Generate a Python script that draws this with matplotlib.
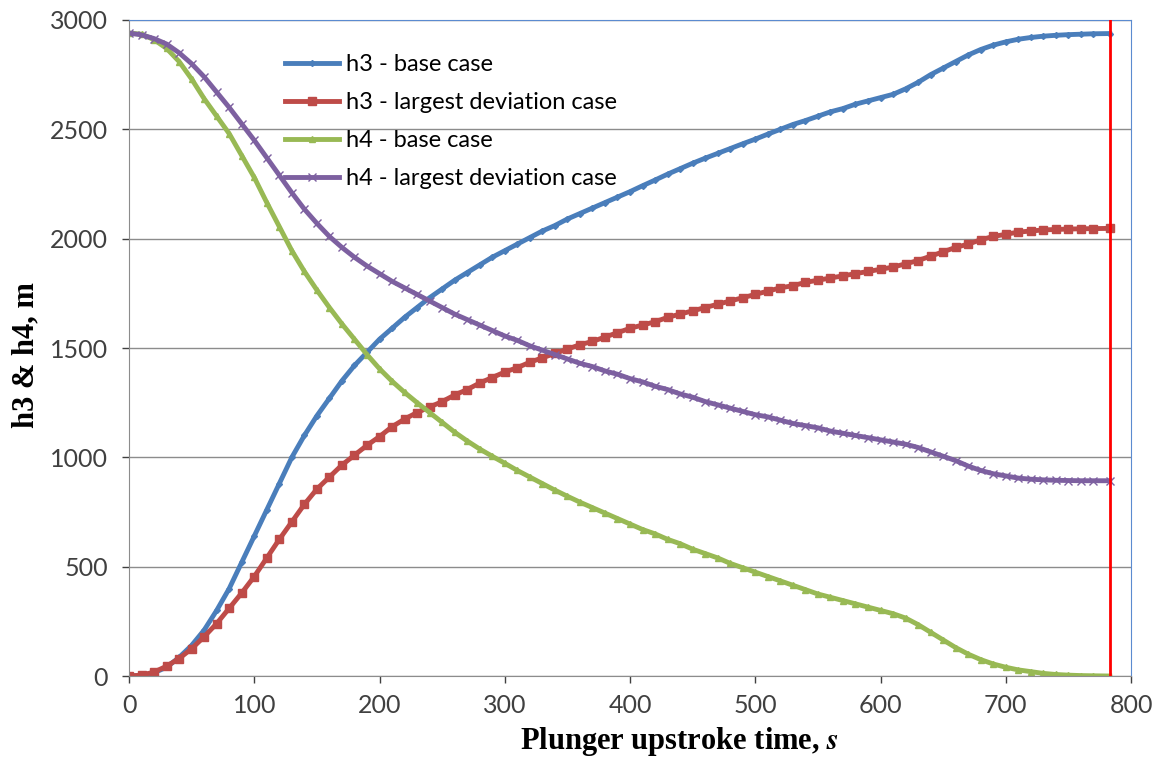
import numpy as np
import matplotlib
matplotlib.use('Agg')
import matplotlib.pyplot as plt

plt.rcParams['font.family'] = ['Lato', 'DejaVu Sans']
plt.rcParams['mathtext.fontset'] = 'stix'

# Час підйому плунжера, с (крок 10 с, останній запис ~783 с)
t = np.append(np.arange(0, 780, 10), 783)

# h3 - base case
h3_base = [0, 3, 15, 40, 85, 140, 210, 300, 400, 520,
           640, 760, 880, 1000, 1100, 1190, 1270, 1350, 1420, 1480,
           1540, 1590, 1640, 1685, 1730, 1770, 1810, 1845, 1880, 1915,
           1945, 1975, 2005, 2035, 2060, 2090, 2115, 2140, 2165, 2190,
           2215, 2242, 2268, 2295, 2320, 2345, 2368, 2390, 2412, 2434,
           2455, 2478, 2500, 2522, 2540, 2560, 2580, 2595, 2615, 2630,
           2645, 2660, 2685, 2715, 2750, 2780, 2810, 2840, 2865, 2885,
           2900, 2912, 2920, 2926, 2930, 2933, 2935, 2937, 2938]

# h3 - largest deviation case
h3_dev = [0, 4, 18, 45, 80, 125, 180, 240, 310, 380,
          455, 540, 625, 705, 785, 855, 910, 965, 1010, 1055,
          1095, 1140, 1175, 1205, 1230, 1255, 1285, 1310, 1340, 1365,
          1390, 1410, 1435, 1455, 1475, 1495, 1515, 1530, 1550, 1570,
          1590, 1605, 1620, 1640, 1655, 1670, 1685, 1700, 1715, 1730,
          1745, 1760, 1775, 1785, 1800, 1810, 1820, 1830, 1840, 1850,
          1860, 1870, 1885, 1900, 1920, 1940, 1960, 1975, 1995, 2010,
          2020, 2030, 2035, 2040, 2042, 2044, 2045, 2046, 2047]

# h4 - base case
h4_base = [2940, 2935, 2910, 2870, 2810, 2730, 2640, 2560, 2480, 2380,
           2280, 2165, 2055, 1945, 1850, 1765, 1685, 1610, 1540, 1470,
           1405, 1348, 1297, 1250, 1205, 1160, 1115, 1075, 1038, 1005,
           973, 940, 910, 880, 850, 822, 795, 770, 745, 720,
           695, 670, 650, 625, 605, 580, 560, 540, 515, 495,
           475, 455, 435, 415, 395, 375, 360, 345, 330, 315,
           300, 285, 265, 235, 200, 165, 130, 100, 75, 55,
           40, 28, 20, 12, 7, 4, 2, 1, 0]

# h4 - largest deviation case
h4_dev = [2940, 2932, 2915, 2890, 2850, 2800, 2740, 2670, 2600, 2525,
          2450, 2370, 2290, 2210, 2135, 2070, 2010, 1960, 1915, 1875,
          1840, 1805, 1775, 1745, 1715, 1685, 1655, 1630, 1605, 1580,
          1555, 1535, 1510, 1490, 1470, 1450, 1430, 1415, 1395, 1380,
          1360, 1345, 1325, 1310, 1290, 1275, 1255, 1240, 1225, 1210,
          1195, 1185, 1170, 1155, 1145, 1135, 1120, 1110, 1100, 1090,
          1080, 1070, 1060, 1045, 1025, 1005, 985, 960, 940, 925,
          915, 905, 900, 897, 895, 894, 893, 893, 893]

t_end = 783  # червона вертикальна лінія

fig = plt.figure(figsize=(11.56, 7.63), dpi=100)
ax = fig.add_axes([0.1116, 0.114, 0.8668, 0.8598])

ax.plot(t, h3_base, c='#4A7EBB', lw=3.5, marker='D', ms=3, label='h3 - base case')
ax.plot(t, h3_dev, c='#BE4B48', lw=3.5, marker='s', ms=6, label='h3 - largest deviation case')
ax.plot(t, h4_base, c='#98B954', lw=3.5, marker='^', ms=5, label='h4 - base case')
ax.plot(t, h4_dev, c='#7D60A0', lw=3.5, marker='x', ms=6, mew=1, label='h4 - largest deviation case')

ax.axvline(t_end, color='red', lw=2, zorder=5)

ax.set_xlim(0, 800)
ax.set_ylim(0, 3000)
ax.set_xticks(np.arange(0, 801, 100))
ax.set_yticks(np.arange(0, 3001, 500))
ax.grid(axis='y', color='#8C8C8C', lw=1)
ax.set_axisbelow(True)
ax.tick_params(labelsize=18, colors='#404040', length=5, width=1, direction='out')
ax.tick_params(axis='y', pad=10)
ax.tick_params(axis='x', pad=8)

for side in ['left', 'bottom']:
    ax.spines[side].set_color('#8C8C8C')
for side in ['top', 'right']:
    ax.spines[side].set_color('#5B8BD0')

ax.set_xlabel('Plunger upstroke time, $\\mathbfit{s}$', family='Liberation Serif',
              fontweight='bold', fontsize=22)
ax.xaxis.set_label_coords(0.549, -0.074)
ax.set_ylabel('h3 & h4, m', family='Liberation Serif', fontweight='bold',
              fontsize=22)
ax.yaxis.set_label_coords(-0.088, 0.49)

ax.legend(loc='upper left', bbox_to_anchor=(0.146, 0.962), frameon=False,
          fontsize=17, handlelength=2.3, labelspacing=0.72, borderaxespad=0,
          handletextpad=0.3)

plt.savefig('out.png', dpi=100)
